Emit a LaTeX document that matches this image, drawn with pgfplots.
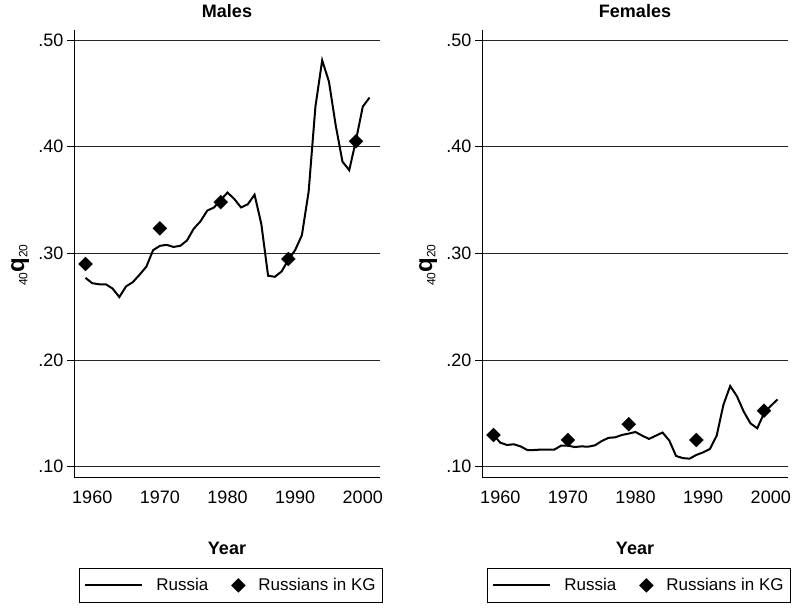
\documentclass[border=0pt]{standalone}
\usepackage{fontspec}
\setmainfont{Liberation Sans}
\usepackage{pgfplots}
\pgfplotsset{compat=1.18}
\pgfplotsset{
  common/.style={
    scale only axis, width=306pt, height=447pt,
    xmin=1957.3, xmax=2002.55, ymin=0.0903, ymax=0.5094,
    axis lines=left, axis line style={-, line width=0.8pt},
    xtick={1960,1970,1980,1990,2000},
    xticklabels={1960,1970,1980,1990,2000},
    ytick={0.1,0.2,0.3,0.4,0.5},
    yticklabels={.10,.20,.30,.40,.50},
    ymajorgrids, major grid style={black!85, line width=0.9pt},
    tick align=outside, major tick length=7pt,
    xtick style={draw=none},
    ytick style={black, line width=0.8pt},
    tick label style={font=\fontsize{18}{20}\selectfont},
    xticklabel style={yshift=-3pt},
    /pgf/number format/assume math mode=true,
    title style={font=\fontsize{18}{20}\selectfont\bfseries, at={(axis description cs:0.5,1)}, anchor=center, yshift=13pt},
    xlabel={Year},
    xlabel style={font=\fontsize{18}{20}\selectfont\bfseries, at={(axis description cs:0.5,-0.159)}, anchor=center},
    ylabel={{\fontsize{12}{12}\selectfont\raisebox{-0.5ex}{40}}{\fontsize{24}{24}\selectfont\bfseries q}{\fontsize{12}{12}\selectfont\raisebox{-0.5ex}{20}}},
    ylabel style={at={(axis description cs:-0.176,0.474)}, anchor=center},
    legend columns=2,
    legend style={at={(axis description cs:0.513,-0.2036)}, anchor=north,
      font=\fontsize{17}{19}\selectfont, draw=black, line width=0.8pt,
      inner xsep=5pt, inner ysep=8pt,
      /tikz/every odd column/.append style={column sep=11pt},
      /tikz/every even column/.append style={column sep=21pt}},
  },
  rusline/.style={black, line width=2pt, no marks,
    legend image code/.code={\draw[black, line width=2pt] (0pt,0pt) -- (57pt,0pt);}},
  kgmark/.style={only marks, mark=square*, mark size=5pt, mark options={rotate=45, fill=black, draw=black, line width=0.1pt},
    legend image code/.code={\draw[black, mark=square*, mark size=5pt, mark options={rotate=45, fill=black, draw=black, line width=0.1pt}, only marks] plot coordinates {(6.5pt,0pt)};}},
}
\begin{document}
\begin{tikzpicture}[x=1pt,y=1pt]
\path (0,0) rectangle (800,612);
\begin{axis}[common, at={(74pt,135pt)}, anchor=south west, title={Males}]
\addplot[rusline] coordinates {
(1959,0.277)(1960,0.272)(1961,0.271)(1962,0.271)(1963,0.267)(1964,0.259)
(1965,0.269)(1966,0.273)(1967,0.280)(1968,0.2875)(1969,0.303)(1970,0.307)
(1971,0.308)(1972,0.306)(1973,0.307)(1974,0.312)(1975,0.323)(1976,0.330)
(1977,0.340)(1978,0.343)(1979,0.350)(1980,0.357)(1981,0.351)(1982,0.343)
(1983,0.346)(1984,0.355)(1985,0.3275)(1986,0.279)(1987,0.278)(1988,0.283)
(1989,0.294)(1990,0.303)(1991,0.317)(1992,0.358)(1993,0.4375)(1994,0.481)
(1995,0.461)(1996,0.420)(1997,0.386)(1998,0.378)(1999,0.406)(2000,0.4375)
(2001,0.446)};
\addlegendentry{Russia}
\addplot[kgmark] coordinates {(1959,0.290)(1970,0.3234)(1979,0.348)(1989,0.2947)(1999,0.405)};
\addlegendentry{Russians in KG}
\end{axis}
\begin{axis}[common, at={(482pt,135pt)}, anchor=south west, title={Females}]
\addplot[rusline] coordinates {
(1959,0.1297)(1960,0.1225)(1961,0.1203)(1962,0.121)(1963,0.119)(1964,0.1156)
(1965,0.1156)(1966,0.116)(1967,0.116)(1968,0.116)(1969,0.1197)(1970,0.1197)
(1971,0.1184)(1972,0.119)(1973,0.1187)(1974,0.120)(1975,0.124)(1976,0.127)
(1977,0.1275)(1978,0.1297)(1979,0.131)(1980,0.1325)(1981,0.129)(1982,0.126)
(1983,0.129)(1984,0.132)(1985,0.1244)(1986,0.110)(1987,0.108)(1988,0.1075)
(1989,0.111)(1990,0.1134)(1991,0.1166)(1992,0.129)(1993,0.158)(1994,0.1756)
(1995,0.166)(1996,0.1516)(1997,0.1406)(1998,0.136)(1999,0.150)(2000,0.157)
(2001,0.163)};
\addlegendentry{Russia}
\addplot[kgmark] coordinates {(1959,0.1297)(1970,0.125)(1979,0.1397)(1989,0.125)(1999,0.1525)};
\addlegendentry{Russians in KG}
\end{axis}
\end{tikzpicture}
\end{document}
